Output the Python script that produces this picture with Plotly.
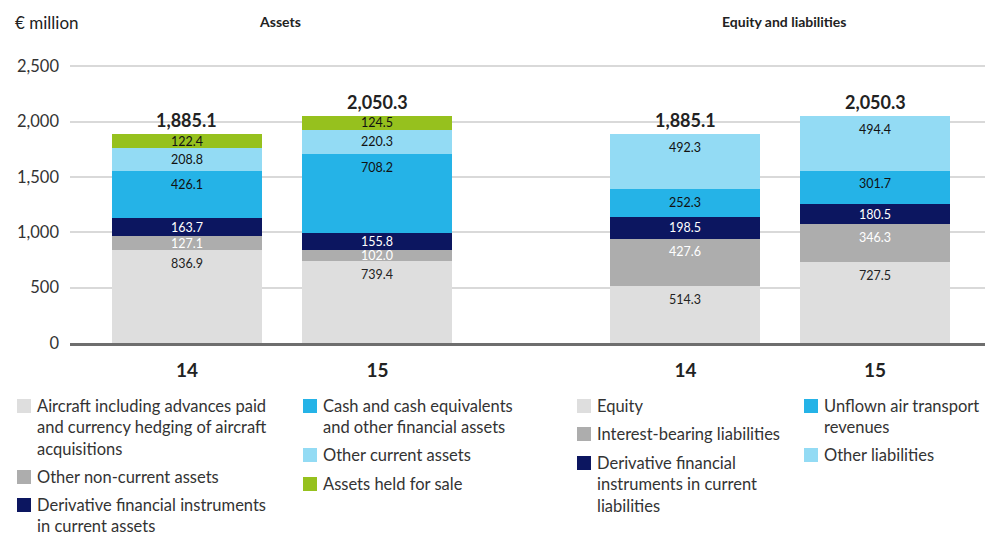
import plotly.graph_objects as go

# ---------------- data ----------------
years = ["14", "15"]
asset_categories = [
    "Aircraft including advances paid<br>and currency hedging of aircraft<br>acquisitions",
    "Other non-current assets",
    "Derivative financial instruments<br>in current assets",
    "Cash and cash equivalents<br>and other financial assets",
    "Other current assets",
    "Assets held for sale",
]
assets_14 = [836.9, 127.1, 163.7, 426.1, 208.8, 122.4]
assets_15 = [739.4, 102.0, 155.8, 708.2, 220.3, 124.5]

liab_categories = [
    "Equity",
    "Interest-bearing liabilities",
    "Derivative financial<br>instruments in current<br>liabilities",
    "Unflown air transport<br>revenues",
    "Other liabilities",
]
liab_14 = [514.3, 427.6, 198.5, 252.3, 492.3]
liab_15 = [727.5, 346.3, 180.5, 301.7, 494.4]

totals_assets = [1885.1, 2050.3]
totals_liab = [1885.1, 2050.3]

y_ticks = [0, 500, 1000, 1500, 2000, 2500]
y_tick_labels = ["0", "500", "1,000", "1,500", "2,000", "2,500"]

# ---------------- styles ----------------
asset_colors = ["#dedede", "#adadad", "#0c1660", "#25b3e7", "#93dbf4", "#96c11e"]
liab_colors = ["#dedede", "#adadad", "#0c1660", "#25b3e7", "#93dbf4"]
asset_text = ["#222222", "#ffffff", "#ffffff", "#111111", "#111111", "#111111"]
liab_text = ["#222222", "#ffffff", "#ffffff", "#111111", "#111111"]

FONT = "Lato"
OFF = 8                      # page body margin
WIN_W, WIN_H = 993, 534
W, H = WIN_W - OFF, WIN_H - OFF
PLOT_L, PLOT_R, PLOT_T, PLOT_B = 70, 993, 44, 343   # window pixels
ML, MR, MT, MB = PLOT_L - OFF, WIN_W - PLOT_R, PLOT_T - OFF, WIN_H - PLOT_B
pos_assets = [0.0, 1.0]
pos_liab = [2.617, 3.613]
bar_w = 0.787

def px(x):
    return (x - PLOT_L) / (PLOT_R - PLOT_L)

def py(y):
    return (PLOT_B - y) / (PLOT_B - PLOT_T)

fig = go.Figure()
annotations = []
shapes = []

def add_group(positions, cats, series_list, colors, tcolors, totals):
    for i, cat in enumerate(cats):
        vals = [s[i] for s in series_list]
        fig.add_trace(go.Bar(
            x=positions, y=vals, width=bar_w, marker=dict(color=colors[i], line=dict(width=0)),
            name=cat.replace("<br>", " "), showlegend=False, hoverinfo="y+name",
        ))
    for j, s in enumerate(series_list):
        base = 0.0
        for i, v in enumerate(s):
            top = base + v
            off = min(v / 2.0, 120.0)
            annotations.append(dict(
                x=positions[j], y=top - off, xref="x", yref="y", text=f"{v:.1f}",
                showarrow=False, font=dict(family=FONT, size=12.5, color=tcolors[i]),
            ))
            base = top
        annotations.append(dict(
            x=positions[j], y=totals[j], xref="x", yref="y",
            text=f"<b>{totals[j]:,.1f}</b>", showarrow=False, yanchor="bottom", yshift=1,
            font=dict(family=FONT, size=18, color="#222222"),
        ))

add_group(pos_assets, asset_categories, [assets_14, assets_15], asset_colors, asset_text, totals_assets)
add_group(pos_liab, liab_categories, [liab_14, liab_15], liab_colors, liab_text, totals_liab)

# headers
annotations.append(dict(x=px(13), y=py(22), xref="paper", yref="paper", text="€ million",
                        showarrow=False, xanchor="left", yanchor="middle",
                        font=dict(family=FONT, size=17, color="#222222")))
annotations.append(dict(x=px(280), y=py(21), xref="paper", yref="paper", text="<b>Assets</b>",
                        showarrow=False, xanchor="center", yanchor="middle",
                        font=dict(family=FONT, size=14, color="#222222")))
annotations.append(dict(x=px(784), y=py(21), xref="paper", yref="paper", text="<b>Equity and liabilities</b>",
                        showarrow=False, xanchor="center", yanchor="middle",
                        font=dict(family=FONT, size=14, color="#222222")))

# custom legend
def legend_item(x_sq, y_top, label, color):
    shapes.append(dict(type="rect", xref="paper", yref="paper",
                       x0=px(x_sq), x1=px(x_sq + 14), y0=py(y_top), y1=py(y_top + 14),
                       fillcolor=color, line=dict(width=0)))
    annotations.append(dict(x=px(x_sq + 18), y=py(y_top - 5), xref="paper", yref="paper",
                            text=label, showarrow=False, xanchor="left", yanchor="top", align="left",
                            font=dict(family=FONT, size=16.5, color="#333333")))

legend_layout_assets = [(17, 399), (17, 470), (17, 498), (303, 399), (303, 448), (303, 477)]
for (xs, yt), lab, col in zip(legend_layout_assets, asset_categories, asset_colors):
    legend_item(xs, yt, lab, col)
legend_layout_liab = [(577, 399), (577, 427), (577, 456), (804, 399), (804, 448)]
for (xs, yt), lab, col in zip(legend_layout_liab, liab_categories, liab_colors):
    legend_item(xs, yt, lab, col)

fig.update_layout(
    width=W, height=H, barmode="stack", bargap=0,
    margin=dict(l=ML, r=MR, t=MT, b=MB),
    plot_bgcolor="white", paper_bgcolor="white",
    annotations=annotations, shapes=shapes, showlegend=False,
    xaxis=dict(range=[-0.614, 4.232], tickvals=pos_assets + pos_liab,
               ticktext=[f"<b>{y}</b>" for y in years] * 2, showgrid=False, zeroline=False,
               showline=True, linecolor="#6e6e6e", linewidth=3, ticks="", ticklabelstandoff=8,
               tickfont=dict(family=FONT, size=19, color="#222222")),
    yaxis=dict(range=[0, 2700], tickvals=y_ticks, ticktext=y_tick_labels, showgrid=True,
               gridcolor="#d9d9d9", gridwidth=1.5, zeroline=False, ticks="", ticklabelstandoff=10,
               tickfont=dict(family=FONT, size=16.5, color="#333333")),
)

fig.write_html("out.html")
